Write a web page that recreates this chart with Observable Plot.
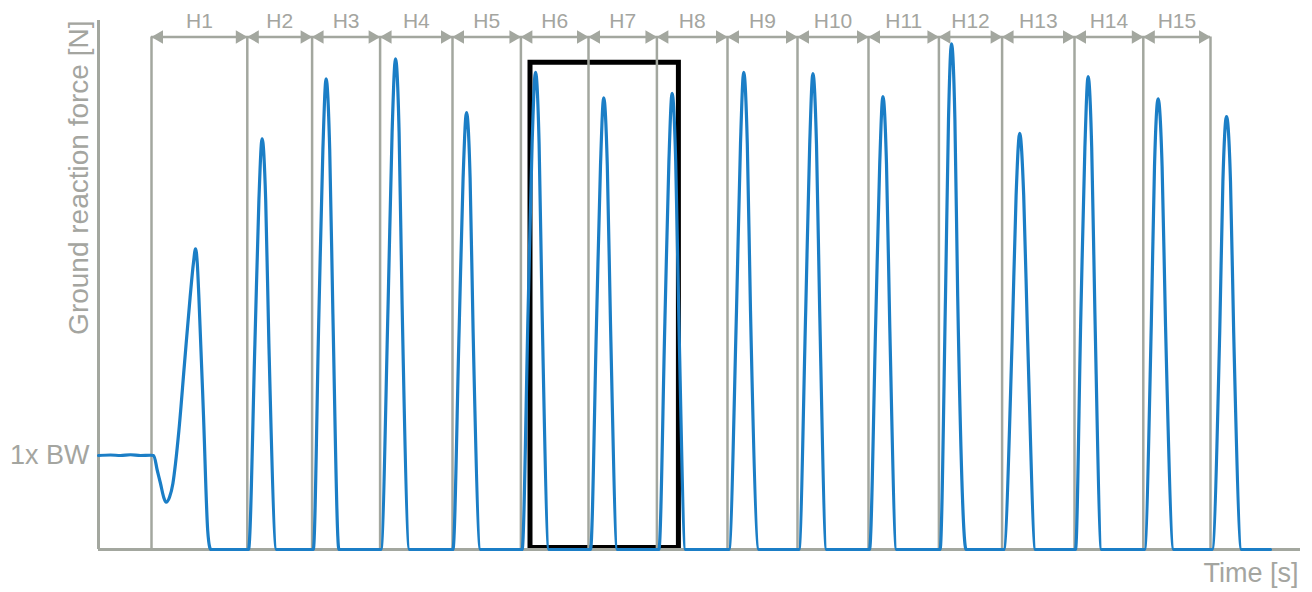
<!DOCTYPE html>
<html><head><meta charset="utf-8">
<script src="https://cdn.jsdelivr.net/npm/d3@7"></script>
<script src="https://cdn.jsdelivr.net/npm/@observablehq/plot@0.6"></script>
<style>html,body{margin:0;padding:0;background:#fff;} svg{display:block}</style>
</head><body><div id="chart"></div>
<script>
// Hop labels and hop boundaries (time in ms)
const hopLabels = ["H1","H2","H3","H4","H5","H6","H7","H8","H9","H10","H11","H12","H13","H14","H15"];
const hopBoundaries = [265, 744, 1068, 1408, 1770, 2112, 2450, 2792, 3145, 3495, 3850, 4202, 4518, 4880, 5224, 5560];
const bodyWeight = 752; // N
// highlighted window (H6–H8 contacts)
const highlight = {t1: 2160, t2: 2902, f1: 12, f2: 3894};

// Ground reaction force trace: [time ms, force N]
const quietStanding = [[0,752],[60,756],[110,752],[160,758],[210,752],[260,754],[276,752]];
const countermovement = [[294,632],[310,528],[326,418],[338,378],[355,418],[372,528],[385,688],[402,952],[430,1488],[458,2016],[475,2296],[485,2406],[494,2288],[502,2016],[525,1072],[546,152],[556,18],[562,0]];
const contact2  = [[750,0],[782,1643],[802,2793],[818,3286],[836,2793],[852,1643],[890,0]];
const contact3  = [[1074,0],[1102,1883],[1122,3201],[1138,3766],[1156,3201],[1172,1883],[1202,0]];
const contact4  = [[1412,0],[1448,1963],[1468,3337],[1485,3926],[1503,3337],[1518,1963],[1555,0]];
const contact5  = [[1772,0],[1803,1748],[1823,2972],[1840,3496],[1858,2972],[1873,1748],[1910,0]];
const contact6  = [[2118,0],[2148,1909],[2168,3246],[2185,3818],[2203,3246],[2218,1909],[2252,0]];
const contact7  = [[2460,0],[2490,1807],[2510,3072],[2526,3614],[2544,3072],[2560,1807],[2594,0]];
const contact8  = [[2802,0],[2832,1825],[2852,3103],[2868,3650],[2886,3103],[2902,1825],[2935,0]];
const contact9  = [[3152,0],[3190,1909],[3210,3246],[3226,3818],[3244,3246],[3260,1909],[3302,0]];
const contact10 = [[3502,0],[3536,1904],[3556,3237],[3572,3808],[3590,3237],[3606,1904],[3640,0]];
const contact11 = [[3855,0],[3886,1812],[3906,3080],[3922,3624],[3940,3080],[3956,1812],[3990,0]];
const contact12 = [[4208,0],[4235,2023],[4250,3439],[4265,4046],[4282,3439],[4296,2023],[4338,0]];
const contact13 = [[4526,0],[4568,1665],[4588,2831],[4606,3330],[4626,2831],[4646,1665],[4685,0]];
const contact14 = [[4885,0],[4912,1892],[4932,3216],[4948,3784],[4966,3216],[4982,1892],[5015,0]];
const contact15 = [[5230,0],[5264,1803],[5280,3065],[5298,3606],[5318,3065],[5335,1803],[5376,0]];
const contact16 = [[5568,0],[5606,1732],[5622,2944],[5640,3464],[5660,2944],[5676,1732],[5715,0]];
const finalRest = [[5860,0]];

const trace = [].concat(quietStanding, countermovement, contact2, contact3, contact4, contact5,
  contact6, contact7, contact8, contact9, contact10, contact11, contact12, contact13,
  contact14, contact15, contact16, finalRest).map(([t, f]) => ({t, f}));

const hopMarks = hopLabels.map((label, i) => ({label, t: (hopBoundaries[i] + hopBoundaries[i + 1]) / 2}));
const arrowY = 4100;
const tMax = 6010, fMax = 4232;

const gray = "#a3a79f";
const textGray = "#a4a5a0";
const blue = "#1b7ec6";
const font = "'Liberation Sans', Arial, sans-serif";

const chart = Plot.plot({
  width: 1312, height: 592,
  marginLeft: 98, marginRight: 12, marginTop: 20, marginBottom: 43,
  x: {domain: [0, tMax], axis: null},
  y: {domain: [0, fMax], axis: null},
  style: {fontFamily: font, background: "#fff"},
  marks: [
    Plot.rect([highlight], {x1: "t1", x2: "t2", y1: "f1", y2: "f2", fill: "none", stroke: "#000", strokeWidth: 5}),
    Plot.ruleX(hopBoundaries, {y1: 0, y2: arrowY, stroke: gray, strokeWidth: 2.5}),
    Plot.ruleX([0], {y1: 0, y2: fMax, stroke: gray, strokeWidth: 3}),
    Plot.ruleY([0], {x1: 0, x2: tMax, stroke: gray, strokeWidth: 3}),
    Plot.ruleY([arrowY], {x1: hopBoundaries[0], x2: hopBoundaries[hopBoundaries.length - 1], stroke: gray, strokeWidth: 2.5}),
    Plot.dot(hopBoundaries.slice(1), {x: d => d, y: arrowY, symbol: "triangle", rotate: 90, r: 5, fill: gray, stroke: "none", dx: -7.6}),
    Plot.dot(hopBoundaries.slice(0, -1), {x: d => d, y: arrowY, symbol: "triangle", rotate: -90, r: 5, fill: gray, stroke: "none", dx: 7.6}),
    Plot.text(hopMarks, {x: "t", text: "label", frameAnchor: "top", lineAnchor: "middle", dy: 1, fontSize: 21, fill: textGray}),
    Plot.line(trace, {x: "t", y: "f", curve: "monotone-x", stroke: blue, strokeWidth: 3.2, strokeLinejoin: "round", strokeLinecap: "round"}),
    Plot.text([{t: 0, f: bodyWeight, label: "1x BW"}], {x: "t", y: "f", text: "label", textAnchor: "end", lineAnchor: "middle", dx: -9, fontSize: 27, fill: textGray}),
    Plot.text(["Ground reaction force [N]"], {text: d => d, frameAnchor: "top-left", lineAnchor: "middle", rotate: -90, textAnchor: "end", dx: -19, fontSize: 28, fill: textGray}),
    Plot.text(["Time [s]"], {text: d => d, frameAnchor: "bottom-right", lineAnchor: "middle", textAnchor: "end", dx: -2, dy: 24, fontSize: 27, fill: textGray})
  ]
});
document.getElementById("chart").appendChild(chart);
</script>
</body></html>
